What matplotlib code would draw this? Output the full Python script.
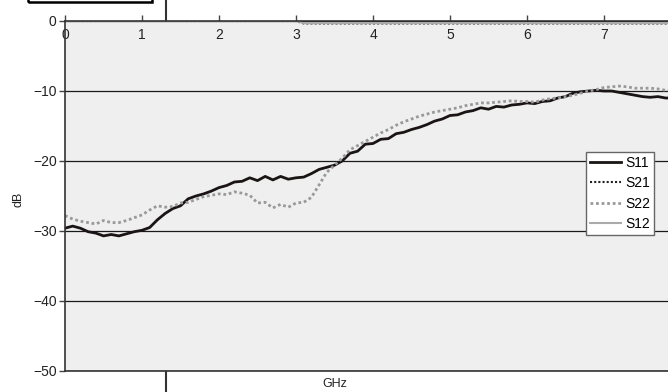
import numpy as np
import matplotlib
matplotlib.use('Agg')
import matplotlib.pyplot as plt
from matplotlib.lines import Line2D
from matplotlib.patches import Rectangle

plt.rcParams['font.family'] = ['Liberation Sans', 'DejaVu Sans']

# frequency grid (GHz), 0.1 step
freq = np.round(np.arange(81) * 0.1, 1)

s11 = [-29.6, -29.3, -29.6, -30.1, -30.3, -30.7, -30.5, -30.7, -30.4, -30.1,
       -29.9, -29.5, -28.4, -27.5, -26.8, -26.4, -25.4, -25.0, -24.7, -24.3,
       -23.8, -23.5, -23.0, -22.9, -22.4, -22.8, -22.2, -22.7, -22.2, -22.6,
       -22.4, -22.3, -21.8, -21.2, -20.9, -20.6, -20.0, -18.9, -18.6, -17.6,
       -17.5, -16.9, -16.8, -16.1, -15.9, -15.5, -15.2, -14.8, -14.3, -14.0,
       -13.5, -13.4, -13.0, -12.8, -12.4, -12.6, -12.2, -12.3, -12.0, -11.9,
       -11.7, -11.8, -11.5, -11.4, -11.0, -10.8, -10.3, -10.1, -10.0, -9.9,
       -10.0, -10.0, -10.2, -10.4, -10.6, -10.8, -10.9, -10.8, -11.0, -11.0,
       -11.1]

s22 = [-27.8, -28.3, -28.6, -28.8, -29.0, -28.5, -28.8, -28.8, -28.5, -28.1,
       -27.7, -27.0, -26.4, -26.6, -26.5, -26.0, -25.9, -25.5, -25.1, -24.9,
       -24.7, -24.8, -24.4, -24.6, -24.9, -26.0, -25.9, -26.7, -26.2, -26.6,
       -26.0, -25.9, -25.2, -23.4, -21.6, -20.6, -19.6, -18.4, -17.8, -17.2,
       -16.6, -16.0, -15.5, -14.9, -14.4, -14.0, -13.6, -13.3, -13.0, -12.8,
       -12.6, -12.4, -12.1, -11.9, -11.7, -11.7, -11.6, -11.5, -11.4, -11.5,
       -11.5, -11.6, -11.3, -11.1, -11.0, -10.8, -10.6, -10.3, -10.0, -9.8,
       -9.5, -9.4, -9.3, -9.4, -9.6, -9.6, -9.6, -9.7, -9.9, -9.9,
       -10.0]

# transmission curves stay at about 0 dB
s21_freq = [0.0, 3.0, 3.1, 8.0]
s21 = [0.0, 0.0, -0.35, -0.35]
s12_freq = [0.0, 3.0, 3.1, 8.0]
s12 = [0.0, 0.0, -0.3, -0.3]

xticks = [0, 1, 2, 3, 4, 5, 6, 7]
yticks = [0, -10, -20, -30, -40, -50]

fig = plt.figure(figsize=(6.68, 3.92), dpi=100)
ax = fig.add_axes([65 / 668, 21 / 392, 616 / 668, 350 / 392])
ax.set_facecolor('#efefef')

ax.plot(freq, s11, color='#1a1414', lw=2.0, label='S11')
ax.plot(s21_freq, s21, color='#222222', lw=1.5, ls=(0, (1, 1)), label='S21')
ax.plot(freq, s22, color='#999999', lw=2.0, ls=(0, (1, 1)), label='S22')
ax.plot(s12_freq, s12, color='#aaaaaa', lw=1.5, label='S12')

ax.set_xlim(0, 8)
ax.set_ylim(-50, 0)
ax.set_xticks(xticks)
ax.set_yticks(yticks)
ax.set_yticklabels(['0', '\u221210', '\u221220', '\u221230', '\u221240', '\u221250'])
ax.grid(True, axis='y', color='#1a1a1a', lw=0.9)
ax.set_axisbelow(True)

ax.xaxis.tick_top()
ax.tick_params(axis='x', direction='out', length=4, width=1, color='#444444',
               labelsize=10, pad=-19, labelcolor='#222222')
ax.tick_params(axis='y', direction='out', length=4, width=1, color='#444444',
               labelsize=10, pad=2, labelcolor='#222222')

for side in ['left', 'bottom', 'top']:
    ax.spines[side].set_color('#333333')
    ax.spines[side].set_linewidth(1.2)
ax.spines['right'].set_visible(False)

ax.set_xlabel('GHz', fontsize=9, color='#222222')
ax.xaxis.set_label_position('bottom')
ax.xaxis.set_label_coords(0.438, -0.02)
ax.set_ylabel('dB', fontsize=9, color='#222222')
ax.yaxis.set_label_coords(-0.065, 0.49)

leg = ax.legend(loc='upper left', bbox_to_anchor=(0.846, 0.626), fontsize=10,
                frameon=True, fancybox=False, framealpha=1, edgecolor='#666666',
                handlelength=2.2, handletextpad=0.3, labelspacing=0.45,
                borderpad=0.3, borderaxespad=0)
leg.get_frame().set_linewidth(1.0)

# stray vertical rule and the boxed caption cut off at the top edge
fig.add_artist(Line2D([166 / 668, 166 / 668], [0, 1], color='#333333', lw=1.5,
                      zorder=-1, transform=fig.transFigure))
fig.add_artist(Rectangle((28 / 668, 390 / 392), 124 / 668, 0.05, fill=False,
                         edgecolor='black', lw=1.8, transform=fig.transFigure))

fig.savefig('out.png', dpi=100)
